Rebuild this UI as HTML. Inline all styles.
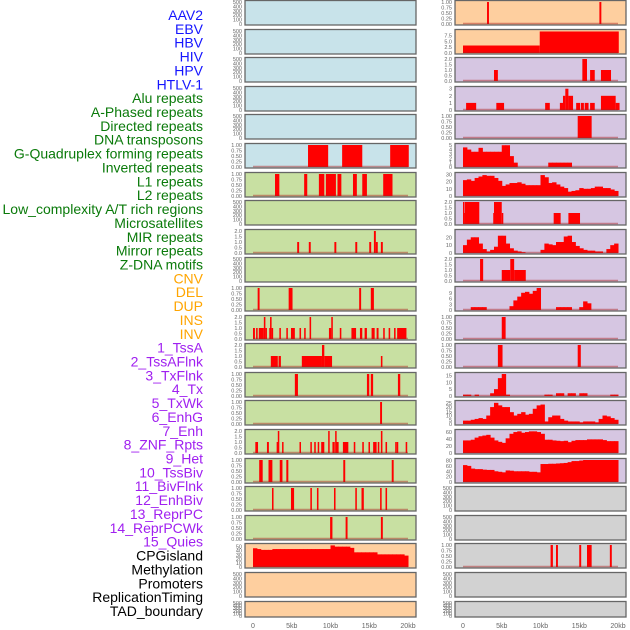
<!DOCTYPE html>
<html><head><meta charset="utf-8">
<style>
html,body{margin:0;padding:0;background:#fff;width:630px;height:630px;overflow:hidden}
svg{display:block}
text{font-family:"Liberation Sans",sans-serif}
</style></head>
<body>
<svg id="chart" width="630" height="630" viewBox="0 0 630 630" xmlns="http://www.w3.org/2000/svg"></svg>
<script>
const trackLabels = ["AAV2","EBV","HBV","HIV","HPV","HTLV-1","Alu repeats","A-Phased repeats","Directed repeats","DNA transposons","G-Quadruplex forming repeats","Inverted repeats","L1 repeats","L2 repeats","Low_complexity A/T rich regions","Microsatellites","MIR repeats","Mirror repeats","Z-DNA motifs","CNV","DEL","DUP","INS","INV","1_TssA","2_TssAFlnk","3_TxFlnk","4_Tx","5_TxWk","6_EnhG","7_Enh","8_ZNF_Rpts","9_Het","10_TssBiv","11_BivFlnk","12_EnhBiv","13_ReprPC","14_ReprPCWk","15_Quies","CPGisland","Methylation","Promoters","ReplicationTiming","TAD_boundary"];
const labelGroupSizes = [6,13,5,15,5];
const labelGroupColors = ["#1515ff","#0a7a0a","#ffa500","#a020f0","#000000"];
const bgLeft = ["b","b","b","b","b","b","g","g","g","g","g","g","g","g","g","g","g","g","g","o","o","o"];
const bgRight = ["o","o","p","p","p","p","p","p","p","p","p","p","p","p","p","p","p","g2","g2","g2","g2","g2"];
const xTickValues = [0,5,10,15,20];
const xTickLabels = ["0","5kb","10kb","15kb","20kb"];

const ticksEmpty = [0,100,200,300,400,500];
const ticks01 = [0,0.25,0.5,0.75,1];
const ticks02 = [0,0.5,1,1.5,2];

const seg_r0R = [[3.1,3.35,1],[17.6,17.85,1]];
const seg_r1R = [[0,9.9,3.2],[9.9,20.1,9.2]];
const seg_r2R = [[4.0,4.5,1],[15.4,16.0,2],[16.4,17.0,1],[17.8,19.1,1]];
const seg_r3R = [[0.4,1.7,1],[4.3,5.3,1],[10.6,11.2,1],[12.5,12.9,1],[12.9,13.2,2],[13.2,13.6,3],[13.6,14.2,2],[14.6,15.1,1],[15.2,15.6,1],[15.7,16.2,1],[16.4,17.0,1],[17.8,19.7,2],[19.7,20.2,1]];
const seg_r4R = [[14.8,16.6,1]];
const seg_r5L = [[7.1,9.7,1],[11.5,14.1,1],[17.7,20.1,1]];
const bins_r5R = [4.5,4,3.5,3.5,4.4,3.5,3.5,3.5,3.5,3.5,5,5,2.5,1,0,0,0,0,0,0,0,0,1,1,1,1,1,1,0,0,0,0,0,0,0,0,0,0,0,0];
const seg_r6L = [[2.84,3.4,1],[6.6,7.0,1],[8.5,9.2,1],[9.4,10.7,1],[10.9,11.4,1],[12.9,13.4,1],[14.1,14.7,1],[16.8,18.0,1]];
const bins_r6R = [22,23,21,25,27,29,28,28,25,21,14,16,18,18,19,17,15,15,15,15,29,26,18,19,16,13,11,6,7,8,11,10,10,11,13,13,11,11,9,7];
const seg_r7R = [[0,0.05,2],[0.05,0.25,1],[0.25,2.1,2],[3.9,4.0,1],[4.0,5.0,2],[5.0,5.2,1],[11.7,12.6,1],[13.6,15.1,1]];
const seg_r8L = [[5.7,5.95,1],[7.2,7.45,1],[10.5,10.75,1],[13.2,13.45,1],[15.0,15.25,1],[15.6,15.85,2],[15.85,16.1,1],[16.5,16.75,1]];
const bins_r8R = [10,17,20,20,12,5,2,4,8,22,22,12,6,3,2,1,0,0,0,0,4,12,11,10,14,14,21,22,14,9,6,4,3,3,2,2,0,5,10,12];
const seg_r9R = [[2.2,2.6,2],[5.0,6.1,1],[6.1,6.6,2],[6.6,8.1,1]];
const seg_r10L = [[0.6,0.85,1],[4.6,5.1,1],[13.7,13.95,1],[15.2,15.6,1]];
const bins_r10R = [0,0,1.5,1.5,1.5,1.5,0,0,0,0,0,0,2,5,7,9,9.5,8.5,10,11.5,0,0,0,0,1.5,1.5,1.5,1.5,0,0,1.5,4.5,3.5,0,0,0,0,0,0,0];
const seg_r11L = [[0,0.25,1],[0.4,0.6,1],[0.75,1.4,1],[1.4,1.6,2],[1.6,1.8,1],[2.1,2.2,1],[2.2,2.4,2],[2.4,2.6,1],[3.4,3.6,1],[4.3,4.5,1],[4.9,5.4,1],[6.0,6.2,1],[6.6,6.8,1],[7.3,7.5,2],[9.8,10.1,1],[10.1,10.3,2],[11.2,11.4,1],[12.7,13.3,1],[13.8,14.1,1],[14.4,14.7,1],[15.3,15.7,1],[15.95,16.2,1],[16.8,17.0,1],[17.5,17.7,1],[18.2,18.4,1],[18.6,19.8,1]];
const seg_r11R = [[5.0,5.5,1]];
const seg_r12L = [[2.3,3.2,1],[3.3,3.6,1],[6.3,8.9,1],[8.9,9.2,2],[9.2,10.2,1],[16.5,16.7,1]];
const seg_r12R = [[4.5,5.1,1],[14.8,15.2,1]];
const seg_r13L = [[5.4,5.8,1],[14.7,15.0,1],[15.2,15.5,1],[18.7,19.0,1]];
const bins_r13R = [1,1,0,1,0,0,0,2,5,13,16,1,0,0,0,0,0,0,0,0,0,1,1,0,2,2,0,2,2,0,2,2,0,0,0,0,0,0,1,1];
const seg_r14L = [[16.4,16.65,1]];
const bins_r14R = [4,4,5,6,7,6,10,20,25,22,20,20,14,10,12,14,11,12,18,22,23,3,8,10,10,6,4,3,3,3,2,3,3,3,2,6,10,9,7,5];
const seg_r15L = [[0.3,0.65,1],[1.8,2.05,1],[3.05,3.2,1],[3.2,3.35,2],[3.75,3.9,1],[6.0,6.15,1],[7.4,7.55,1],[7.9,8.1,1],[8.35,8.5,1],[8.8,9.2,1],[9.7,9.85,2],[10.25,10.55,1],[10.6,10.75,2],[10.75,11.05,1],[11.6,12.3,1],[13.0,13.2,1],[14.1,14.3,1],[14.9,15.05,1],[15.5,15.95,1],[16.1,16.3,1],[16.5,16.7,2],[17.1,17.3,1],[18.35,18.5,1],[18.55,18.7,1],[19.7,19.9,1]];
const bins_r15R = [36,36,38,44,48,50,52,44,36,32,29,42,55,60,62,58,60,62,62,60,55,38,38,36,35,34,35,31,35,37,37,37,39,39,39,39,37,34,34,34];
const seg_r16L = [[0.8,1.25,1],[2.0,2.5,1],[3.45,3.8,1],[4.3,4.56,1],[11.65,11.9,1],[17.9,18.15,1]];
const bins_r16R = [63,60,50,48,48,46,45,45,40,38,36,43,42,40,40,40,40,38,38,36,67,67,68,68,69,70,71,74,78,78,80,82,82,82,82,82,82,82,82,82];
const seg_r17L = [[2.45,2.65,1],[4.9,5.3,1],[7.4,7.6,1],[8.25,8.45,1],[10.45,10.65,1],[13.2,13.4,1],[14.0,14.3,1],[16.4,16.6,1],[17.1,17.3,1]];
const seg_r18L = [[9.95,10.25,1],[11.95,12.2,1],[16.5,16.75,1]];
const bins_r19L = [46,44,42,42,42,44,44,44,44,44,44,44,44,44,44,44,44,44,44,44,53,50,50,50,50,47,36,36,36,36,36,36,31,31,31,31,31,31,31,28];
const seg_r19R = [[11.3,11.6,1],[12.0,12.25,1],[15.0,15.25,1],[16.0,16.6,1],[18.95,19.2,1]];

function P(ticks, tl, max, segs, bins){ return {ticks:ticks, tl:tl, max:max, segs:segs, bins:bins}; }
const E = null;
const t01 = ["0.00","0.25","0.50","0.75","1.00"], t02 = ["0.0","0.5","1.0","1.5","2.0"];
const panelsLeft = [E,E,E,E,E,
  P(ticks01,t01,1,seg_r5L), P(ticks01,t01,1,seg_r6L), E, P(ticks02,t02,2,seg_r8L), E,
  P(ticks01,t01,1,seg_r10L), P(ticks02,t02,2,seg_r11L), P(ticks02,t02,2,seg_r12L), P(ticks01,t01,1,seg_r13L),
  P(ticks01,t01,1,seg_r14L), P(ticks02,t02,2,seg_r15L), P(ticks01,t01,1,seg_r16L), P(ticks01,t01,1,seg_r17L),
  P(ticks01,t01,1,seg_r18L), P([0,10,20,30,40,50],["0","10","20","30","40","50"],54,null,bins_r19L), E, E];
const panelsRight = [P(ticks01,t01,1,seg_r0R), P([0,2.5,5,7.5],["0.0","2.5","5.0","7.5"],9.4,seg_r1R),
  P(ticks02,t02,2,seg_r2R), P([0,1,2,3],["0","1","2","3"],3.1,seg_r3R), P(ticks01,t01,1,seg_r4R),
  P([0,1,2,3,4,5],["0","1","2","3","4","5"],5.05,null,bins_r5R), P([0,10,20,30],["0","10","20","30"],30.5,null,bins_r6R),
  P(ticks02,t02,2,seg_r7R), P([0,10,20],["0","10","20"],28,null,bins_r8R), P(ticks02,t02,2,seg_r9R),
  P([0,3,6,9],["0","3","6","9"],11.5,null,bins_r10R), P(ticks01,t01,1,seg_r11R), P(ticks01,t01,1,seg_r12R),
  P([0,5,10,15],["0","5","10","15"],16,null,bins_r13R), P([0,5,10,15,20,25],["0","5","10","15","20","25"],26,null,bins_r14R),
  P([0,20,40,60],["0","20","40","60"],63,null,bins_r15R), P([0,20,40,60,80],["0","20","40","60","80"],82,null,bins_r16R),
  E,E,P(ticks01,t01,1,seg_r19R),E,E];

const svg = document.getElementById('chart');
const NS = 'http://www.w3.org/2000/svg';
const colors = {b:"#c8e3ea", g:"#c8e0a2", o:"#fecf9f", p:"#d6c6e2", g2:"#d2d2d2"};
function mk(tag, attrs, parent){ const e=document.createElementNS(NS,tag); for(const k in attrs) e.setAttribute(k,attrs[k]); (parent||svg).appendChild(e); return e; }

let li=0;
for(let g=0; g<labelGroupSizes.length; g++){
  for(let j=0;j<labelGroupSizes[g];j++){
    const t = mk('text',{x:203,y:(15+li*13.86+5).toFixed(1),'text-anchor':'end','font-size':14,fill:labelGroupColors[g]});
    t.textContent = trackLabels[li];
    
    
    li++;
  }
}

function drawPanel(col, r, spec, bg){
  const x0 = col===0 ? 245 : 455, w = 171;
  const top = Math.round(r*28.6)+0.5, h = r===21 ? 15.5 : 24.5;
  const zeroX = x0+8;
  const xs = kb => zeroX + kb*7.75;
  const grp = mk('g',{});
  
  
  mk('rect',{x:x0,y:top,width:w,height:h,fill:colors[bg],stroke:'#666','stroke-width':1.3},grp);
  const ticks = spec ? spec.ticks : ticksEmpty;
  const tl = spec ? spec.tl : ticksEmpty.map(String);
  const max = spec ? spec.max : 500;
  const bot = top+h-1, ph = h-2.5;
  const ys = v => bot - v/max*ph;
  ticks.forEach((v,i)=>{
    const t = mk('text',{x:x0-3,y:(ys(v)+2).toFixed(1),'text-anchor':'end','font-size':5.5,fill:'#666'},grp);
    t.textContent = tl[i];
    
    
  });
  if(!spec) return;
  let segs = spec.segs;
  let pad = 0;
  if(spec.bins){ segs = spec.bins.map((v,b)=>[b*0.5, b*0.5+0.5, v]); pad = 0.5; }
  segs.forEach(s=>{
    if(s[2]<=0) return;
    const y = ys(s[2]);
    const bar = mk('rect',{x:xs(s[0]).toFixed(2),y:y.toFixed(2),width:(Math.max(1.5,xs(s[1])-xs(s[0]))+pad).toFixed(2),height:(bot-y).toFixed(2),fill:'#ff0000'},grp);
    
    
  });
  mk('line',{x1:xs(0),x2:xs(20),y1:bot-0.5,y2:bot-0.5,stroke:'rgba(170,30,30,0.45)','stroke-width':1.5},grp);
}
for(let r=0;r<22;r++){
  drawPanel(0,r,panelsLeft[r],bgLeft[r]);
  drawPanel(1,r,panelsRight[r],bgRight[r]);
}
[253,463].forEach((zx,ci)=>{
  xTickValues.forEach((v,i)=>{
    const t = mk('text',{x:(zx+v*7.75).toFixed(1),y:628,'text-anchor':'middle','font-size':7,fill:'#666'});
    t.textContent = xTickLabels[i];
    
    
  });
});
</script>
</body></html>
